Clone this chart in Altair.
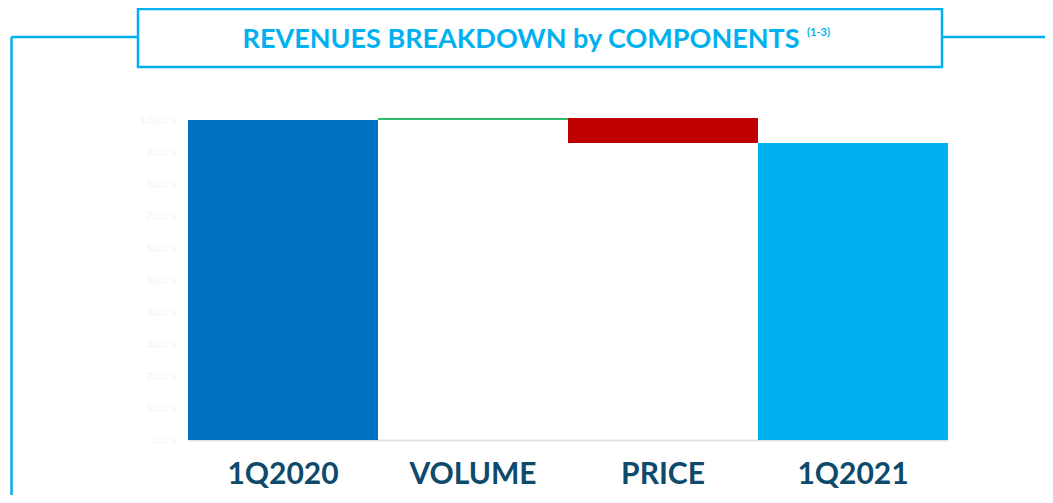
import altair as alt
import pandas as pd

categories = ["1Q2020", "VOLUME", "PRICE", "1Q2021"]
starts = [0.0, 100.0, 100.6, 0.0]
ends = [100.0, 100.6, 92.8, 92.8]
colors = ["#0070C0", "#2EBD6B", "#C00000", "#00B0F0"]

df = pd.DataFrame({"cat": categories, "start": starts, "end": ends, "color": colors})

W, H = 760, 320
FRAME = "#00B0F0"
FONT = "Lato"
one = alt.Data(values=[{"a": 1}])

bars = alt.Chart(df).mark_bar().encode(
    x=alt.X("cat:N", sort=categories,
            scale=alt.Scale(paddingInner=0, paddingOuter=0),
            axis=alt.Axis(title=None, labelAngle=0, labelFont=FONT,
                          labelFontSize=30, labelFontWeight="bold", labelColor="#0D4A6B",
                          labelPadding=19, ticks=False, domainColor="#E3E3E3", domainWidth=2)),
    y=alt.Y("start:Q", scale=alt.Scale(domain=[0, 100], nice=False),
            axis=alt.Axis(title=None, format=".1f", labelExpr="datum.label + '%'",
                          values=[0, 10, 20, 30, 40, 50, 60, 70, 80, 90, 100],
                          labelColor="#F3F3F3", labelFontSize=11, labelFont=FONT, grid=False,
                          domain=False, ticks=False, labelPadding=12)),
    y2="end:Q",
    color=alt.Color("color:N", scale=None),
)

def rule(x1, x2, y1, y2, w=2.5):
    return alt.Chart(one).mark_rule(color=FRAME, strokeWidth=w).encode(
        x=alt.value(x1), x2=alt.value(x2), y=alt.value(y1), y2=alt.value(y2))

vline = rule(-176.5, -176.5, -83, 380)
hleft = rule(-176.5, -50, -83, -83)
hright = rule(754, 870, -83, -83)
box = alt.Chart(one).mark_rect(fill="white", stroke=FRAME, strokeWidth=2.5).encode(
    x=alt.value(-50), x2=alt.value(754), y=alt.value(-111), y2=alt.value(-53))

title = alt.Chart(one).mark_text(
    text="REVENUES BREAKDOWN by COMPONENTS", font=FONT,
    fontSize=27, fontWeight="bold", color=FRAME, align="center", baseline="middle"
).encode(x=alt.value(333), y=alt.value(-80))

sup = alt.Chart(one).mark_text(
    text="(1-3)", font=FONT, fontSize=11, fontWeight="bold",
    color=FRAME, align="left", baseline="middle"
).encode(x=alt.value(619), y=alt.value(-87))

chart = alt.layer(vline, hleft, hright, box, title, sup, bars).properties(
    width=W, height=H,
    background="white",
    autosize=alt.AutoSizeParams(type="none"),
    padding={"left": 180, "top": 112, "right": 97, "bottom": 55},
).configure_view(strokeWidth=0, strokeOpacity=0)

chart.save("out.html", embed_options={"renderer": "svg", "actions": False})
